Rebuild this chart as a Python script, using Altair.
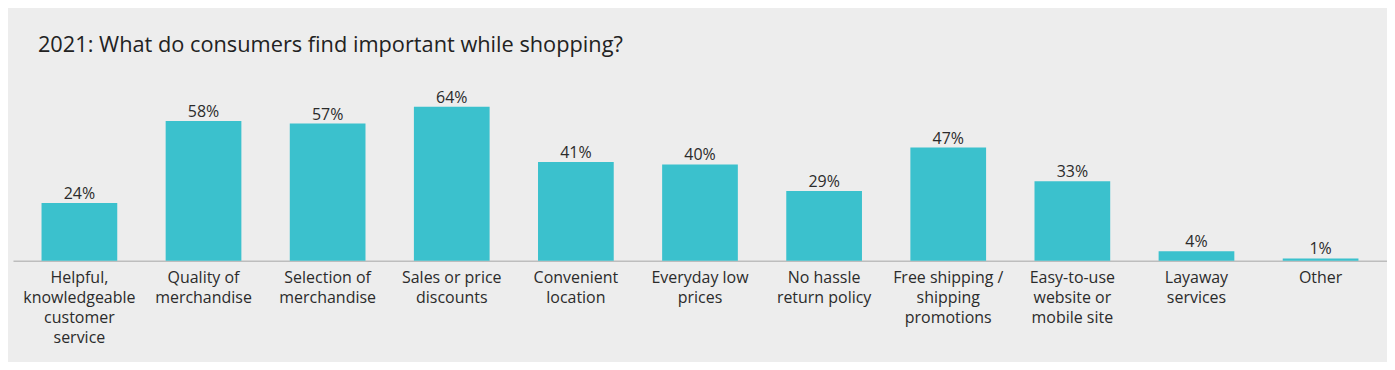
import altair as alt
import pandas as pd

categories = [
    "Helpful,|knowledgeable|customer|service",
    "Quality of|merchandise",
    "Selection of|merchandise",
    "Sales or price|discounts",
    "Convenient|location",
    "Everyday low|prices",
    "No hassle|return policy",
    "Free shipping /|shipping|promotions",
    "Easy-to-use|website or|mobile site",
    "Layaway|services",
    "Other",
]
values = [24, 58, 57, 64, 41, 40, 29, 47, 33, 4, 1]
title_text = "2021: What do consumers find important while shopping?"

df = pd.DataFrame({"cat": categories, "val": values})
df["lab"] = df["val"].astype(str) + "%"

FONT = "Open Sans"

x = alt.X(
    "cat:N",
    sort=categories,
    scale=alt.Scale(paddingInner=0.39, paddingOuter=0.23),
    axis=alt.Axis(
        title=None,
        labelAngle=0,
        labelExpr="split(datum.label, '|')",
        labelFont=FONT,
        labelFontSize=16,
        labelColor="#2b2b2b",
        labelLineHeight=20,
        labelPadding=9,
        labelBaseline="top",
        ticks=False,
        domainColor="#bdbdbd",
        domainWidth=1.5,
        labelLimit=200,
    ),
)
y = alt.Y("val:Q", scale=alt.Scale(domain=[0, 70]), axis=None)

bars = alt.Chart(df).mark_bar(color="#3bc1cd").encode(x=x, y=y)
text = alt.Chart(df).mark_text(
    baseline="alphabetic", dy=-4, font=FONT, fontSize=16, color="#2b2b2b"
).encode(x=alt.X("cat:N", sort=categories), y="val:Q", text="lab:N")

chart = (
    alt.layer(bars, text)
    .properties(
        width=1377,
        height=169,
        autosize=alt.AutoSizeParams(type="none"),
        padding={"left": 5, "top": 84, "right": 0, "bottom": 101},
        background="#ededed",
        title=alt.TitleParams(
            title_text,
            anchor="start",
            frame="group",
            font=FONT,
            fontSize=21.8,
            fontWeight="normal",
            color="#222222",
            baseline="alphabetic",
            offset=16,
            dx=25,
        ),
    )
    .configure_view(stroke=None)
)

chart.save("out.html", embed_options={"renderer": "svg", "actions": False})
